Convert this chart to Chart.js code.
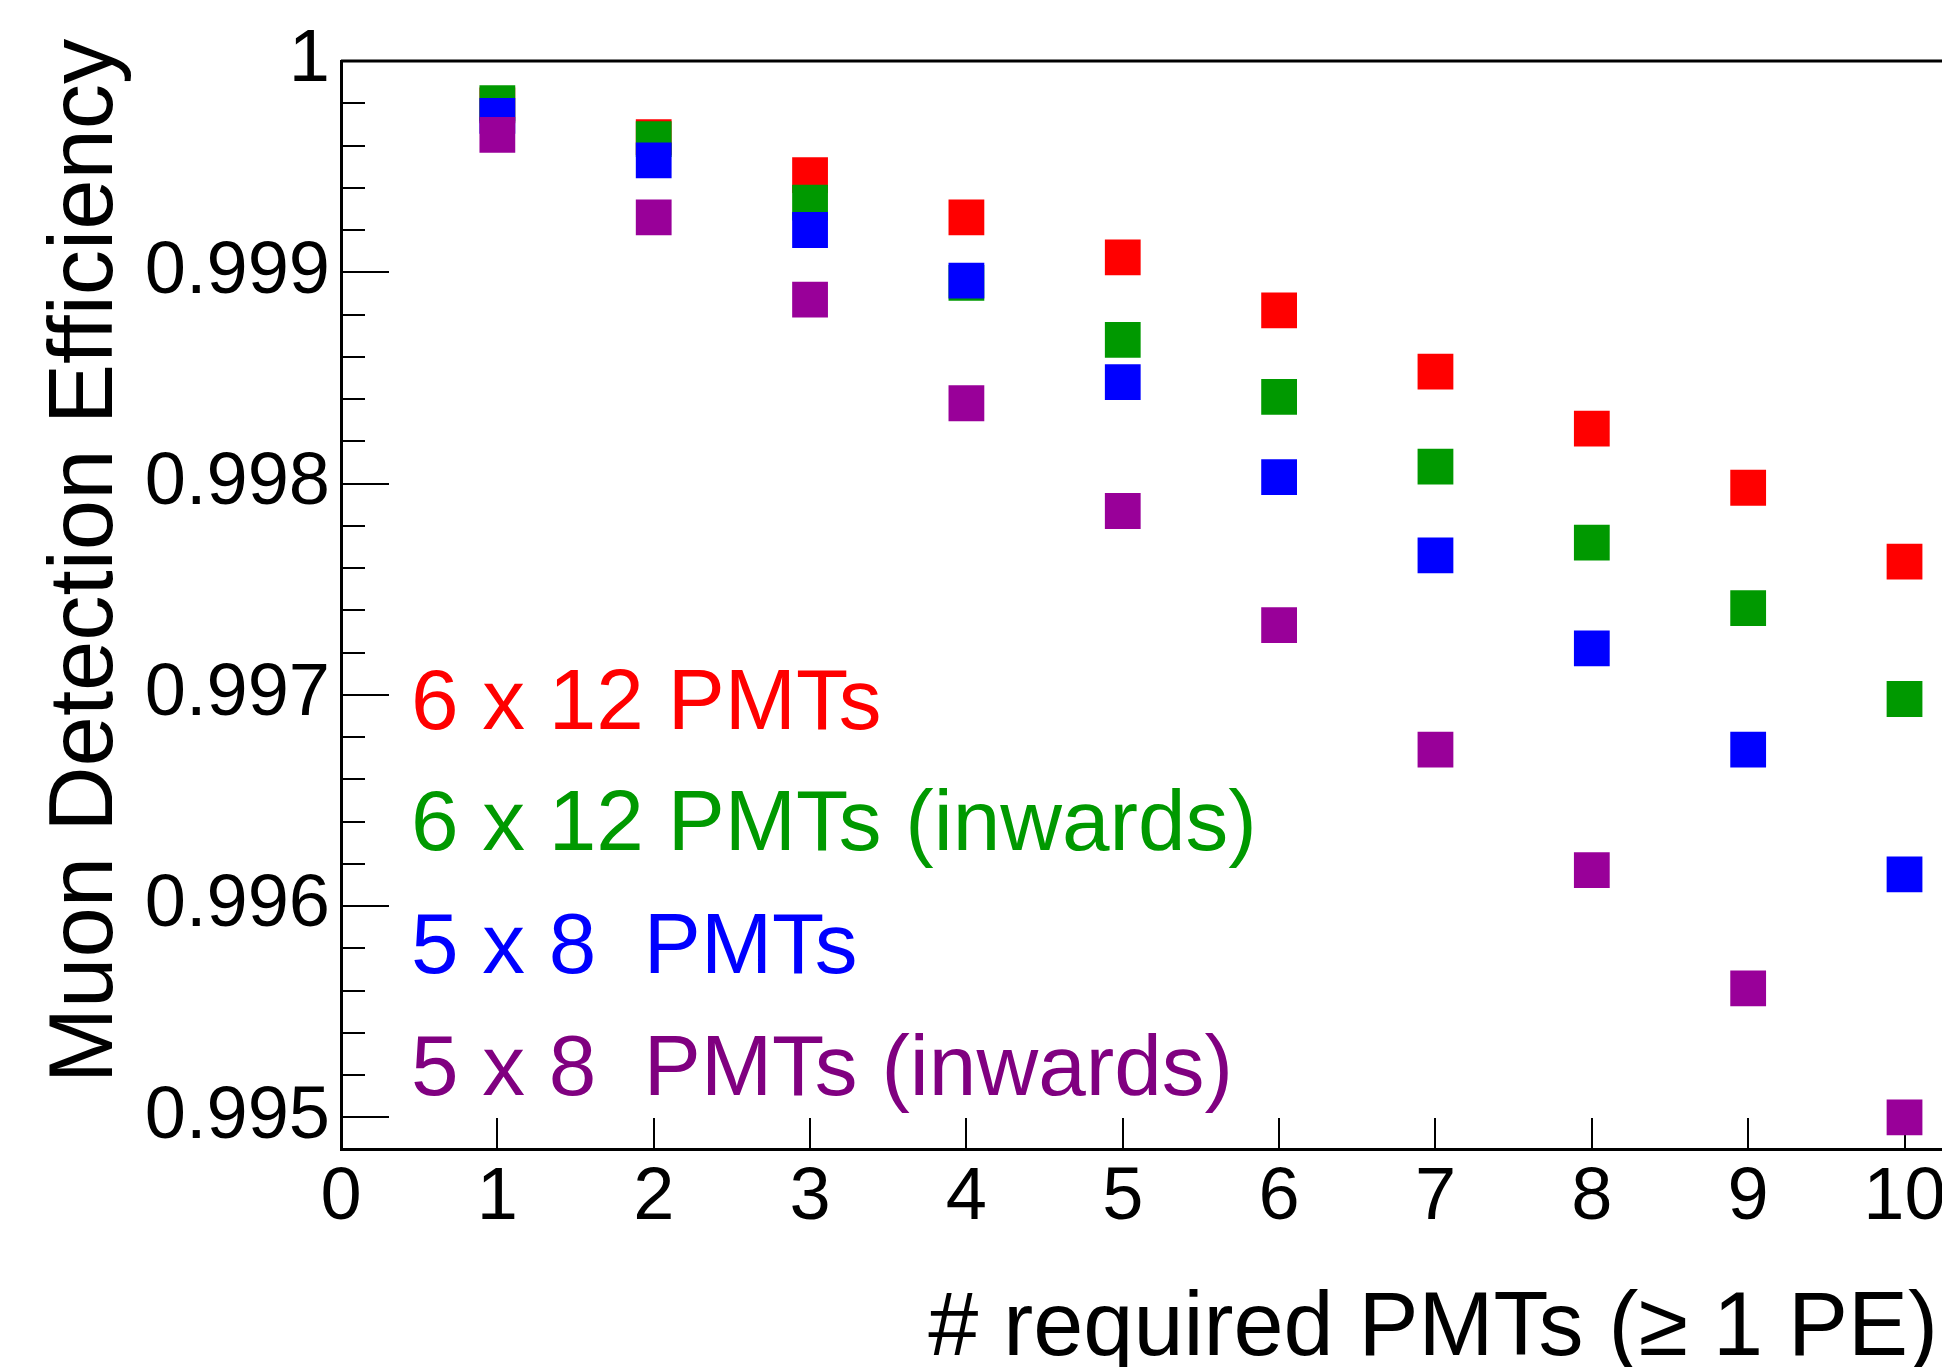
<!DOCTYPE html>
<html>
<head>
<meta charset="utf-8">
<title>Muon Detection Efficiency</title>
<script src="https://cdn.jsdelivr.net/npm/chart.js@4.4.0/dist/chart.umd.min.js"></script>
<style>
    html, body { margin: 0; padding: 0; background: #fff; }
    body {
        width: 1942px;
        height: 1367px;
        overflow: hidden;
        position: relative;
        font-family: 'Liberation Sans', Arial, Helvetica, sans-serif;
    }
    /* the frame runs past the right edge, like in the original crop */
    #wrap { position: absolute; left: 0; top: 0; width: 2008px; height: 1367px; }
    .txt { position: absolute; white-space: pre; line-height: 1; }
    #ytitle {
        left: -519px; top: 516px; width: 1200px; height: 90px;
        font-size: 90.5px; text-align: center; color: #000;
        transform: rotate(-90deg);
    }
    #xtitle {
        left: 738px; top: 1279px; width: 1200px;
        font-size: 90px; text-align: right; color: #000;
    }
    .leg { left: 411px; font-size: 85.5px; }
</style>
</head>
<body>
<div id="wrap"><canvas id="eff-chart"></canvas></div>
<div class="txt" id="ytitle">Muon Detection Efficiency</div>
<div class="txt" id="xtitle"># required PMTs (≥ 1 PE)</div>
<script>
// Data
const xValues = [1, 2, 3, 4, 5, 6, 7, 8, 9, 10];
const eff6x12 = [0.99979, 0.99964, 0.99946, 0.99926, 0.99907, 0.99882, 0.99853, 0.99826, 0.99798, 0.99763];
const eff6x12Inwards = [0.99980, 0.99963, 0.99933, 0.99895, 0.99868, 0.99841, 0.99808, 0.99772, 0.99741, 0.99698];
const eff5x8 = [0.99974, 0.99953, 0.99920, 0.99896, 0.99848, 0.99803, 0.99766, 0.99722, 0.99674, 0.99615];
const eff5x8Inwards = [0.99965, 0.99926, 0.99887, 0.99838, 0.99787, 0.99733, 0.99674, 0.99617, 0.99561, 0.99500];

const seriesLabels = ['6 x 12 PMTs', '6 x 12 PMTs (inwards)', '5 x 8  PMTs', '5 x 8  PMTs (inwards)'];
const seriesColors = ['#ff0000', '#009900', '#0000ff', '#990099'];
const legendColors = ['#ff0000', '#009900', '#0000ff', '#800080'];

// Axis ticks
const xTicks = [0, 1, 2, 3, 4, 5, 6, 7, 8, 9, 10];
const yMajorTicks = [0.995, 0.996, 0.997, 0.998, 0.999, 1];
const yTickLabels = ['0.995', '0.996', '0.997', '0.998', '0.999', '1'];
const yMinorTicks = [
    0.9952, 0.9954, 0.9956, 0.9958,
    0.9962, 0.9964, 0.9966, 0.9968,
    0.9972, 0.9974, 0.9976, 0.9978,
    0.9982, 0.9984, 0.9986, 0.9988,
    0.9992, 0.9994, 0.9996, 0.9998
];

const FONT = "'Liberation Sans', Arial, Helvetica, sans-serif";

// Legend: coloured text only, no markers
const legendTops = [657, 778, 901, 1023];
seriesLabels.forEach((label, i) => {
    const div = document.createElement('div');
    div.className = 'txt leg';
    div.style.top = legendTops[i] + 'px';
    div.style.color = legendColors[i];
    div.textContent = label;
    document.body.appendChild(div);
});

/**
 * ROOT style ticks: drawn inward from the frame, with minor ticks on y
 */
const frameTicks = {
    id: 'frameTicks',
    beforeDatasetsDraw(chart) {
        const { ctx, chartArea: a, scales: { x, y } } = chart;
        ctx.save();
        ctx.strokeStyle = '#000';
        ctx.lineWidth = 2;
        ctx.beginPath();
        yMajorTicks.forEach(v => {
            const py = Math.round(y.getPixelForValue(v));
            ctx.moveTo(a.left, py);
            ctx.lineTo(a.left + 48, py);
        });
        yMinorTicks.forEach(v => {
            const py = Math.round(y.getPixelForValue(v));
            ctx.moveTo(a.left, py);
            ctx.lineTo(a.left + 24, py);
        });
        xTicks.forEach(v => {
            if (v === 0) return;
            const px = Math.round(x.getPixelForValue(v));
            ctx.moveTo(px, a.bottom);
            ctx.lineTo(px, a.bottom - 31);
        });
        ctx.stroke();

        // top edge of the frame
        ctx.lineWidth = 3;
        ctx.beginPath();
        ctx.moveTo(a.left, a.top);
        ctx.lineTo(a.right, a.top);
        ctx.stroke();
        ctx.restore();
    }
};

const allSeries = [eff6x12, eff6x12Inwards, eff5x8, eff5x8Inwards];
const datasets = allSeries.map((values, i) => ({
    label: seriesLabels[i],
    data: xValues.map((xv, j) => ({ x: xv, y: values[j] })),
    pointStyle: 'rect',
    pointRadius: 25.3,
    pointBorderWidth: 0,
    backgroundColor: seriesColors[i],
    borderColor: seriesColors[i],
    showLine: false,
    order: allSeries.length - i   // later series on top
}));

const ctx = document.getElementById('eff-chart').getContext('2d');
new Chart(ctx, {
    type: 'scatter',
    data: { datasets: datasets },
    plugins: [frameTicks],
    options: {
        responsive: true,
        maintainAspectRatio: false,
        animation: false,
        events: [],
        layout: { padding: { top: 61, left: 0, right: 8, bottom: 0 } },
        plugins: {
            legend: { display: false },
            tooltip: { enabled: false }
        },
        scales: {
            x: {
                type: 'linear',
                min: 0,
                max: 10.5,
                afterBuildTicks: s => { s.ticks = xTicks.map(v => ({ value: v })); },
                afterFit: s => { s.height = 218; },
                grid: { display: false, drawTicks: false },
                border: { display: true, color: '#000', width: 3 },
                ticks: {
                    color: '#000',
                    font: { family: FONT, size: 74 },
                    padding: 5,
                    maxRotation: 0,
                    autoSkip: false,
                    callback: v => String(v)
                }
            },
            y: {
                type: 'linear',
                min: 0.99485,
                max: 1,
                afterBuildTicks: s => { s.ticks = yMajorTicks.map(v => ({ value: v })); },
                afterFit: s => { s.width = 341; },
                grid: { display: false, drawTicks: false },
                border: { display: true, color: '#000', width: 3 },
                ticks: {
                    color: '#000',
                    font: { family: FONT, size: 74 },
                    padding: 11,
                    autoSkip: false,
                    callback: (v, i) => yTickLabels[i]
                }
            }
        }
    }
});
</script>
</body>
</html>
